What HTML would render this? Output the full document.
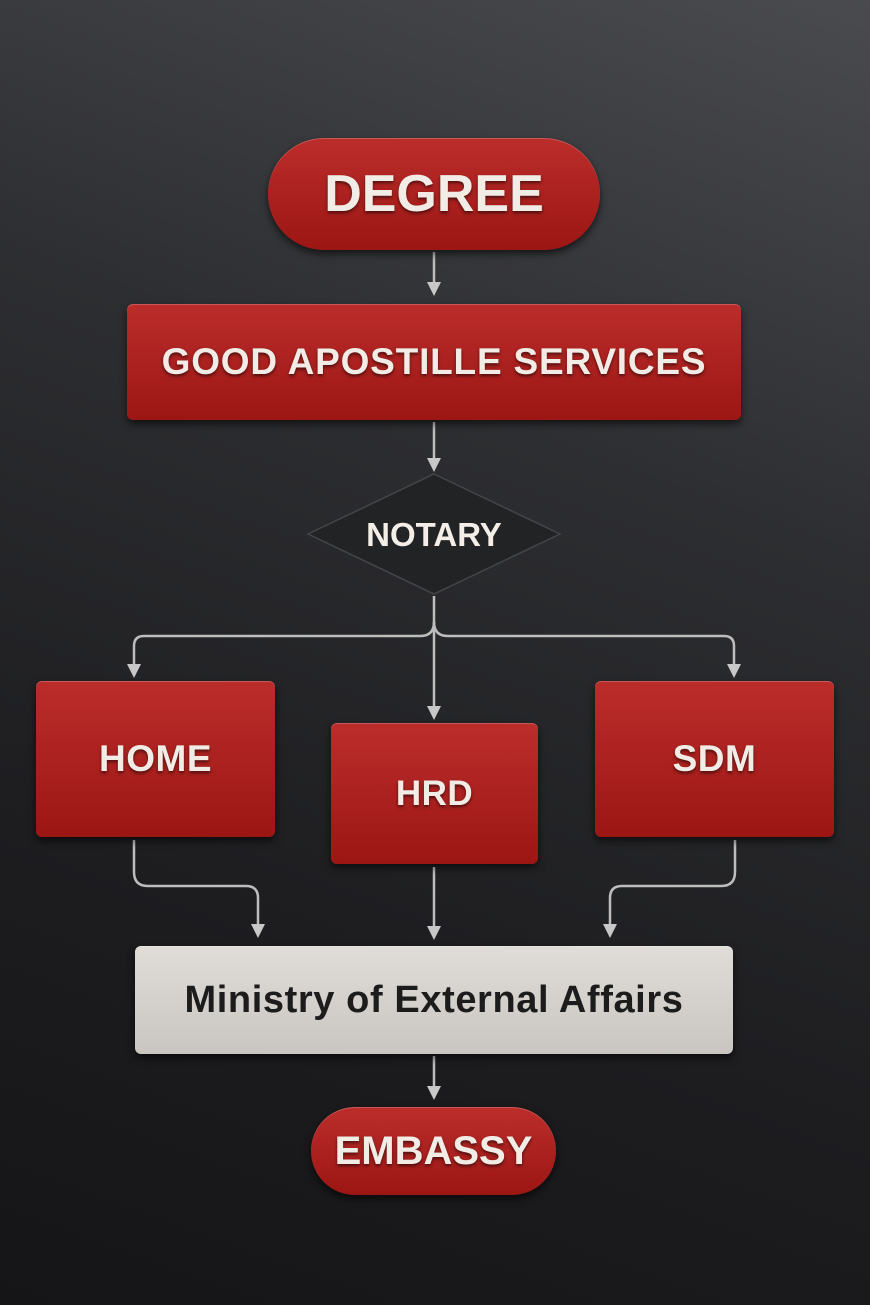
<!DOCTYPE html>
<html><head><meta charset="utf-8"><style>
html,body{margin:0;padding:0}
body{width:870px;height:1305px;position:relative;overflow:hidden;
background:linear-gradient(200deg,#4a4b4f 0%,#2d2e31 35%,#1d1d20 70%,#151517 100%);
font-family:"Liberation Sans",sans-serif;font-weight:bold}
.b{position:absolute;display:flex;align-items:center;justify-content:center;color:#f2ece6;
background:linear-gradient(180deg,#bb2d2b,#9c1614);box-shadow:0 4px 8px rgba(0,0,0,.6),inset 0 1px 0 rgba(255,255,255,.2);
text-shadow:0 2px 3px rgba(0,0,0,.55);border-radius:6px;white-space:nowrap}
svg{position:absolute;left:0;top:0}
</style></head><body>
<svg width="870" height="1305">
<g stroke="#bdbdbd" stroke-width="2.5" fill="none">
<path d="M434 252 V286"/><path d="M434 422 V462"/>
<path d="M434 596 V712"/>
<path d="M434 622 Q434 636 420 636 H144 Q134 636 134 646 V668"/>
<path d="M434 622 Q434 636 448 636 H724 Q734 636 734 646 V668"/>
<path d="M134 840 V872 Q134 886 148 886 H246 Q258 886 258 898 V928"/>
<path d="M434 867 V930"/>
<path d="M735 840 V872 Q735 886 721 886 H622 Q610 886 610 898 V928"/>
<path d="M434 1056 V1090"/>
</g>
<g fill="#c8c8c8">
<path d="M427 282 L441 282 L434 296 Z"/><path d="M427 458 L441 458 L434 472 Z"/>
<path d="M127 664 L141 664 L134 678 Z"/><path d="M727 664 L741 664 L734 678 Z"/>
<path d="M427 706 L441 706 L434 720 Z"/>
<path d="M251 924 L265 924 L258 938 Z"/><path d="M427 926 L441 926 L434 940 Z"/><path d="M603 924 L617 924 L610 938 Z"/>
<path d="M427 1086 L441 1086 L434 1100 Z"/>
</g>
<polygon points="434,474 560,534 434,594 308,534" fill="#222325" stroke="#444548" stroke-width="1.5"/>
<text x="434" y="546" text-anchor="middle" font-family="Liberation Sans" font-weight="bold" font-size="33" fill="#f4eee8">NOTARY</text>
</svg>
<div class="b" style="left:268px;top:138px;width:332px;height:112px;border-radius:56px;font-size:52px">DEGREE</div>
<div class="b" style="left:127px;top:304px;width:614px;height:116px;font-size:37px;letter-spacing:0.8px">GOOD APOSTILLE SERVICES</div>
<div class="b" style="left:36px;top:681px;width:239px;height:156px;font-size:37px;letter-spacing:0.5px">HOME</div>
<div class="b" style="left:331px;top:723px;width:207px;height:141px;font-size:35px;letter-spacing:0.5px">HRD</div>
<div class="b" style="left:595px;top:681px;width:239px;height:156px;font-size:37px;letter-spacing:0.5px">SDM</div>
<div class="b" style="left:135px;top:946px;width:598px;height:108px;font-size:38px;letter-spacing:0.6px;color:#1c1c1c;text-shadow:none;background:linear-gradient(180deg,#e0ddd9,#c9c5c0)">Ministry of External Affairs</div>
<div class="b" style="left:311px;top:1107px;width:245px;height:88px;border-radius:44px;font-size:40px">EMBASSY</div>
</body></html>
